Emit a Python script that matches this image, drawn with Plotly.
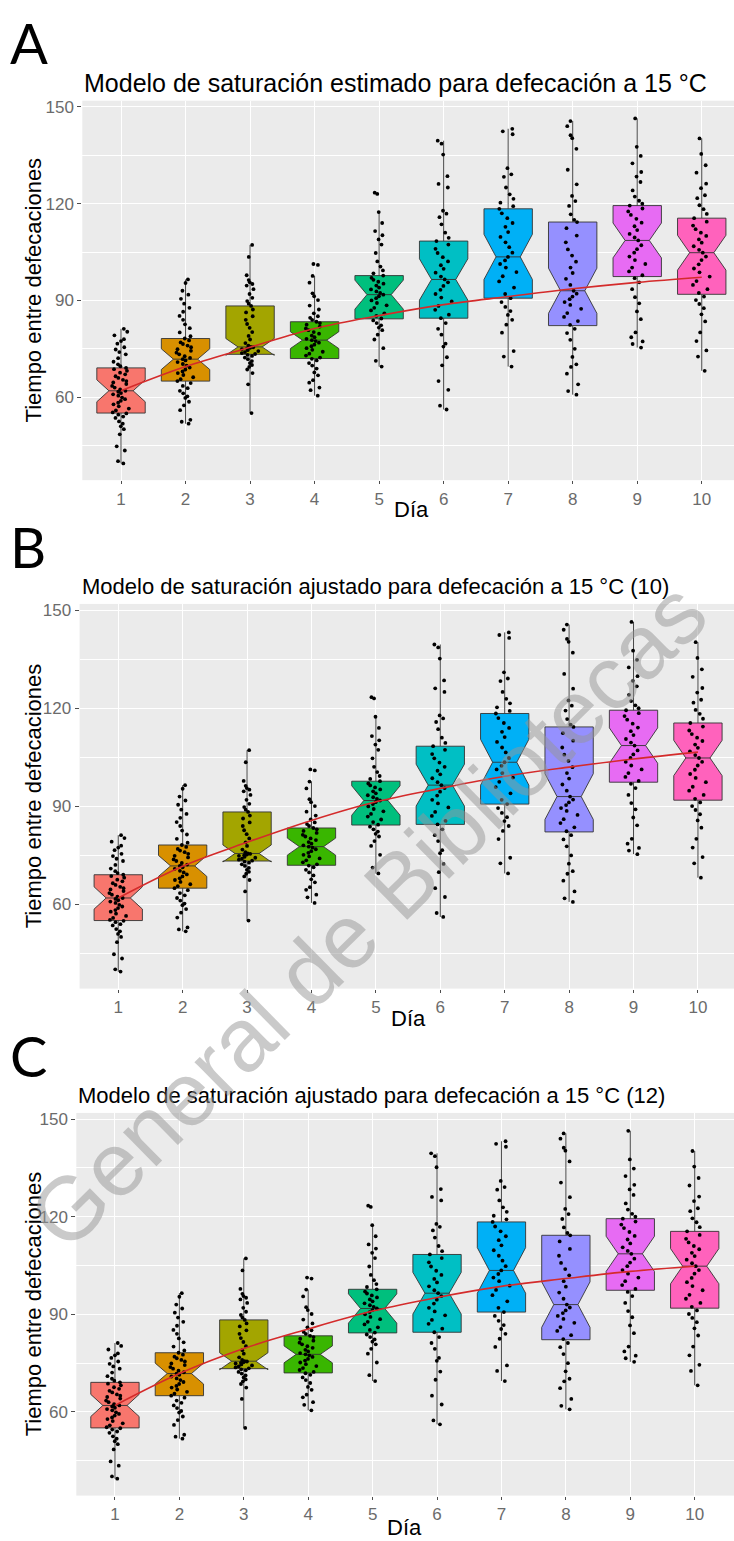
import plotly.graph_objects as go

# ---------------- data ----------------
days = [1, 2, 3, 4, 5, 6, 7, 8, 9, 10]
day_labels = ["1", "2", "3", "4", "5", "6", "7", "8", "9", "10"]
box_colors = ["#F8766D", "#D89000", "#A3A500", "#39B600", "#00BF7D",
              "#00BFC4", "#00B0F6", "#9590FF", "#E76BF3", "#FF62BC"]

q1 = [55.1, 65.0, 73.3, 72.0, 84.3, 84.5, 90.7, 82.2, 97.4, 91.9]
median = [62.0, 71.8, 75.6, 77.7, 91.8, 96.5, 103.5, 93.0, 108.6, 104.8]
q3 = [69.1, 78.2, 88.3, 83.4, 97.7, 108.4, 118.4, 114.3, 119.4, 115.5]
lowerfence = [39.5, 51.8, 55.1, 60.5, 69.5, 56.2, 69.5, 60.8, 75.4, 68.2]
upperfence = [81.2, 96.5, 107.2, 97.6, 117.4, 139.5, 143.2, 145.6, 146.4, 140.2]
notchspan = [3.4, 3.2, 2.6, 2.6, 4.5, 6.4, 7.0, 7.0, 5.4, 5.4]

day1 = [39.5, 40.2, 43.5, 44.8, 48.5, 50.1, 51.0, 51.8, 52.5, 53.6, 54.0, 54.6, 55.0,
        55.3, 55.9, 56.5, 57.2, 57.8, 58.3, 58.9, 59.4, 59.9, 60.5, 60.9, 61.3, 61.7, 62.0,
        62.4, 63.0, 63.5, 64.1, 64.6, 65.0, 65.4, 66.0, 66.5, 67.1, 67.6, 68.2, 68.7, 69.1,
        69.6, 70.2, 71.0, 72.1, 73.3, 74.0, 74.8, 75.5, 76.6, 77.4, 78.0, 79.2, 80.3, 81.2]
day2 = [51.8, 52.4, 53.0, 56.0, 57.5, 58.6, 59.8, 60.3, 61.2, 62.0, 62.8, 63.5, 64.4,
        65.0, 65.6, 66.2, 66.9, 67.5, 68.0, 68.6, 69.2, 69.8, 70.3, 70.9, 71.4, 71.8,
        72.2, 72.7, 73.3, 73.8, 74.4, 74.9, 75.5, 76.0, 76.5, 77.0, 77.6, 78.2,
        78.9, 80.1, 81.4, 82.6, 84.0, 85.2, 86.5, 87.7, 89.0, 90.5, 91.8, 93.0, 95.4, 96.5]
day3 = [55.1, 64.0, 67.5, 68.6, 69.4, 70.0, 70.6, 71.2, 71.8, 72.3, 72.8, 73.1,
        73.4, 73.7, 74.0, 74.3, 74.6, 74.9, 75.1, 75.3, 75.5, 75.6,
        76.0, 76.8, 77.9, 79.0, 80.2, 81.5, 82.7, 84.0, 85.1, 86.3, 87.2, 88.3,
        89.0, 89.8, 90.8, 92.0, 93.5, 94.6, 95.1, 95.6, 96.3, 97.8, 103.5, 107.2]
day4 = [60.5, 62.2, 63.0, 64.5, 65.3, 66.8, 67.7, 68.9, 69.8, 70.6, 71.4, 71.9,
        72.3, 72.9, 73.5, 74.1, 74.7, 75.2, 75.8, 76.3, 76.9, 77.4, 77.7,
        78.1, 78.6, 79.1, 79.7, 80.2, 80.8, 81.3, 81.9, 82.5, 83.0, 83.4,
        84.0, 84.6, 85.1, 86.0, 87.2, 88.4, 90.1, 91.3, 92.2, 95.5, 97.6, 101.0, 101.3]
day5 = [69.5, 71.3, 75.2, 77.9, 79.4, 80.8, 81.6, 82.3, 83.0, 83.8,
        84.4, 85.2, 86.0, 86.9, 87.7, 88.5, 89.2, 90.0, 90.7, 91.3, 91.8,
        92.3, 92.8, 93.4, 94.0, 94.6, 95.2, 95.8, 96.4, 97.0, 97.7,
        98.4, 99.3, 100.5, 102.1, 104.7, 107.3, 108.9, 110.2, 111.5, 114.0, 117.4, 123.0, 123.4]
day6 = [56.2, 57.4, 62.3, 65.0, 69.9, 72.4, 75.7, 76.6, 79.4, 81.2, 83.0,
        84.5, 85.6, 87.1, 88.3, 89.7, 90.9, 92.0, 93.3, 94.5, 95.6, 96.5,
        97.4, 98.6, 99.8, 100.9, 102.1, 103.4, 104.7, 106.0, 107.3, 108.4,
        109.4, 111.0, 113.6, 115.8, 116.9, 117.8, 125.0, 126.1, 128.5, 135.2, 138.6, 139.5]
day7 = [69.5, 72.6, 74.3, 80.0, 82.5, 84.0, 85.5, 86.7, 88.0, 89.5,
        90.7, 92.0, 94.0, 95.9, 97.5, 98.8, 100.2, 101.3, 102.4, 103.5,
        104.8, 106.5, 108.0, 109.7, 111.2, 112.8, 114.0, 115.5, 117.0, 118.4,
        119.2, 120.3, 121.5, 122.9, 125.0, 128.3, 129.1, 131.0, 141.5, 142.4, 143.2]
day8 = [60.8, 61.9, 64.0, 67.3, 69.4, 70.2, 72.5, 75.0, 77.8, 79.9, 81.2,
        82.4, 83.6, 84.9, 86.1, 87.4, 88.6, 89.5, 90.4, 91.2, 92.1, 93.0,
        94.8, 96.7, 98.5, 100.2, 102.0, 103.9, 105.8, 108.0, 110.1, 112.4, 114.3,
        115.0, 116.7, 119.3, 120.8, 122.4, 126.0, 130.5, 137.0, 140.3, 141.2, 144.0, 145.6]
day9 = [75.4, 76.5, 77.3, 78.6, 80.1, 84.2, 86.6, 89.1, 91.0, 93.5, 95.6, 96.9,
        97.8, 99.0, 100.2, 101.3, 102.5, 103.6, 104.8, 105.9, 107.1, 108.6,
        109.5, 110.6, 111.8, 113.0, 114.1, 115.3, 116.5, 117.6, 118.5, 119.4,
        120.0, 120.9, 122.2, 124.1, 126.7, 128.4, 129.8, 132.5, 134.8, 137.6, 146.4]
day10 = [68.2, 72.6, 74.5, 77.4, 80.1, 83.5, 85.7, 87.6, 88.9, 90.1, 91.2,
         92.3, 93.5, 94.8, 96.0, 97.4, 98.7, 99.9, 101.2, 102.5, 103.6, 104.8,
         105.7, 106.8, 107.9, 108.9, 110.0, 111.0, 112.1, 113.2, 114.4, 115.5,
         116.8, 118.3, 119.5, 121.7, 122.6, 124.8, 126.2, 129.6, 131.9, 135.4, 140.2]
points = [day1, day2, day3, day4, day5, day6, day7, day8, day9, day10]

curve_A = [62.0, 69.5, 75.5, 81.3, 85.3, 88.7, 91.2, 93.6, 95.6, 97.2]
curve_B = [62.0, 71.7, 79.0, 85.7, 91.4, 95.5, 99.2, 102.0, 104.5, 106.6]
curve_C = [62.0, 71.8, 79.5, 85.5, 91.0, 95.2, 98.6, 101.0, 103.2, 104.8]

titles = ["Modelo de saturación estimado para defecación a 15 °C",
          "Modelo de saturación ajustado para defecación a 15 °C (10)",
          "Modelo de saturación ajustado para defecación a 15 °C (12)"]
letters = ["A", "B", "C"]
y_title = "Tiempo entre defecaciones"
x_title = "Día"
y_ticks = [60, 90, 120, 150]
watermark = "General de Bibliotecas"

# ---------------- layout geometry (pixels) ----------------
W, H = 734, 1541
panels = [
    dict(left=82.3, top=97.9, bottom=478.1, xend=10.50, ty=80, tsize=25, ly=40, xty=507),
    dict(left=79.6, top=602.1, bottom=987.5, xend=10.56, ty=585, tsize=22, ly=545, xty=1017),
    dict(left=76.3, top=1112.1, bottom=1495.5, xend=10.61, ty=1095, tsize=22, ly=1055, xty=1527),
]
curves = [curve_A, curve_B, curve_C]
FONT = "Liberation Sans, Arial, sans-serif"

fig = go.Figure()
annotations = []
layout_axes = {}

for p, pan in enumerate(panels):
    xa = "x" if p == 0 else f"x{p+1}"
    ya = "y" if p == 0 else f"y{p+1}"
    for i in range(10):
        fig.add_trace(go.Box(
            x=[days[i]], y=[points[i]],
            q1=[q1[i]], median=[median[i]], q3=[q3[i]],
            lowerfence=[lowerfence[i]], upperfence=[upperfence[i]],
            notchspan=[notchspan[i]], notched=True, notchwidth=0.25,
            width=0.75, whiskerwidth=0,
            boxpoints="all", jitter=0.4, pointpos=0,
            fillcolor=box_colors[i],
            line=dict(color="#333333", width=0.9),
            marker=dict(color="black", size=3.8, opacity=1),
            xaxis=xa, yaxis=ya, showlegend=False, hoverinfo="skip",
        ))
    fig.add_trace(go.Scatter(
        x=days, y=curves[p], mode="lines",
        line=dict(color="#D42B2B", width=1.6, shape="spline"),
        xaxis=xa, yaxis=ya, showlegend=False, hoverinfo="skip",
    ))

    key_x = "xaxis" if p == 0 else f"xaxis{p+1}"
    key_y = "yaxis" if p == 0 else f"yaxis{p+1}"
    layout_axes[key_x] = dict(
        domain=[pan["left"] / W, 1.0], range=[0.4, pan["xend"]],
        anchor=ya, tickmode="array", tickvals=days, ticktext=day_labels,
        showgrid=True, gridcolor="white", gridwidth=1.1, zeroline=False,
        ticks="outside", ticklen=3, tickcolor="#4d4d4d", tickwidth=1,
        tickfont=dict(family=FONT, size=17, color="#6b6b6b"),
        showline=False, fixedrange=True,
    )
    layout_axes[key_y] = dict(
        domain=[1 - pan["bottom"] / H, 1 - pan["top"] / H], range=[34.3, 151.9],
        anchor=xa, tickmode="array", tickvals=y_ticks,
        showgrid=True, gridcolor="white", gridwidth=1.1, zeroline=False,
        ticks="outside", ticklen=4, tickcolor="#4d4d4d", tickwidth=1,
        tickfont=dict(family=FONT, size=17, color="#6b6b6b"),
        minor=dict(tickvals=[45, 75, 105, 135], showgrid=True, gridcolor="white",
                   gridwidth=0.55, ticks=""),
        showline=False, fixedrange=True,
    )
    annotations.append(dict(
        text=titles[p], xref="paper", yref="paper",
        x=pan["left"] / W, y=1 - pan["ty"] / H, xanchor="left", yanchor="middle",
        showarrow=False, font=dict(family=FONT, size=pan["tsize"], color="black"),
    ))
    annotations.append(dict(
        text=letters[p], xref="paper", yref="paper",
        x=8 / W, y=1 - pan["ly"] / H, xanchor="left", yanchor="middle",
        showarrow=False, font=dict(family="Lato, Open Sans, sans-serif", size=56, color="black"),
    ))
    annotations.append(dict(
        text=y_title, xref="paper", yref="paper", textangle=-90,
        x=33 / W, y=1 - (pan["top"] + pan["bottom"]) / 2 / H,
        xanchor="center", yanchor="middle", showarrow=False,
        font=dict(family=FONT, size=22, color="black"),
    ))
    annotations.append(dict(
        text=x_title, xref=xa, yref="paper", x=5.5, y=1 - pan["xty"] / H,
        xanchor="center", yanchor="middle", showarrow=False,
        font=dict(family=FONT, size=22, color="black"),
    ))

# watermark
annotations.append(dict(
    text=watermark, xref="paper", yref="paper",
    x=368 / W, y=1 - 914 / H, xanchor="center", yanchor="middle",
    textangle=-44.5, showarrow=False,
    font=dict(family=FONT, size=90, color="rgba(150,150,150,0.5)"),
))

fig.update_layout(
    width=W, height=H, margin=dict(l=0, r=0, t=0, b=0),
    paper_bgcolor="white", plot_bgcolor="#EBEBEB",
    boxmode="overlay", annotations=annotations, **layout_axes,
)

fig.write_html("out.html")
